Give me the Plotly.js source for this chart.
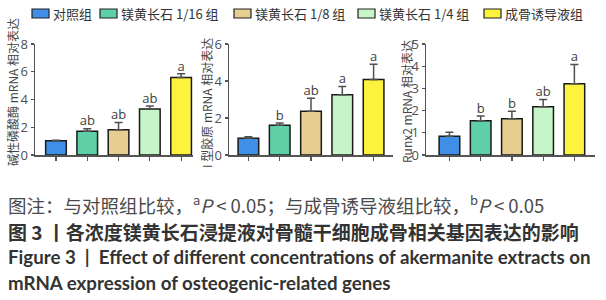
<!DOCTYPE html>
<html>
<head>
<meta charset="utf-8">
<script src="https://cdn.plot.ly/plotly-3.0.1.min.js"></script>
<style>html,body{margin:0;padding:0;background:#fff;}#chart{width:606px;height:300px;}</style>
</head>
<body>
<div id="chart"></div>
<script>
// ---- data ----
const groups = ["对照组", "镁黄长石 1/16 组", "镁黄长石 1/8 组", "镁黄长石 1/4 组", "成骨诱导液组"];
const colors = ["#3f8fe6", "#5fcfa8", "#e6cd90", "#c6f5c9", "#fdf33e"];

const alpValues = [1.02, 1.72, 1.82, 3.31, 5.59];
const alpErrors = [0.05, 0.18, 0.52, 0.22, 0.26];
const alpMarks  = ["", "ab", "ab", "ab", "a"];

const colValues = [0.90, 1.61, 2.37, 3.26, 4.08];
const colErrors = [0.08, 0.12, 0.70, 0.44, 0.82];
const colMarks  = ["", "b", "ab", "a", "a"];

const runValues = [0.85, 1.54, 1.63, 2.17, 3.21];
const runErrors = [0.17, 0.22, 0.34, 0.33, 0.87];
const runMarks  = ["", "b", "b", "ab", "a"];

const yTitles = ["碱性磷酸酶 mRNA 相对表达", "I 型胶原 mRNA 相对表达", "Runx2 mRNA 相对表达"];
const yTicks = [[0, 2, 4, 6, 8], [0, 2, 4, 6], [0, 1, 2, 3, 4, 5]];
const yRanges = [[0, 8], [0, 6], [0, 5]];

// ---- layout helpers ----
const W = 606, H = 300;
const px = x => x / W;
const py = y => (H - y) / H;
const cats = [0, 1, 2, 3, 4];

const panels = [
  {vals: alpValues, errs: alpErrors, marks: alpMarks, x0: 35, x1: 193, xr: [-0.67, 4.38], title: yTitles[0], tx: 12, ty: 92},
  {vals: colValues, errs: colErrors, marks: colMarks, x0: 229, x1: 393, xr: [-0.62, 4.62], title: yTitles[1], tx: 206, ty: 103},
  {vals: runValues, errs: runErrors, marks: runMarks, x0: 426, x1: 595, xr: [-0.75, 4.66], title: yTitles[2], tx: 407, ty: 102}
];

const traces = [];
const layout = {
  width: W, height: H,
  margin: {l: 0, r: 0, t: 0, b: 0},
  paper_bgcolor: "#fff", plot_bgcolor: "rgba(0,0,0,0)",
  showlegend: false,
  font: {family: "Noto Sans CJK SC, sans-serif", color: "#333"},
  annotations: [], shapes: []
};

panels.forEach((p, i) => {
  const n = i === 0 ? "" : String(i + 1);
  const xa = "x" + n, ya = "y" + n;
  traces.push({
    type: "bar", x: cats, y: p.vals, xaxis: xa, yaxis: ya,
    width: 0.66,
    marker: {color: colors, line: {color: "#1a1a1a", width: 1.5}},
    error_y: {type: "data", array: p.errs, arrayminus: p.errs.map(() => 0), symmetric: false,
              color: "#505050", thickness: 1.5, width: 4},
    hoverinfo: "none"
  });
  traces.push({
    type: "scatter", mode: "text", x: cats, y: p.vals.map((v, k) => v + p.errs[k]),
    xaxis: xa, yaxis: ya, text: p.marks, textposition: "top center",
    textfont: {family: "Open Sans, sans-serif", size: 13, color: "#404040"},
    hoverinfo: "none", cliponaxis: false
  });
  layout["xaxis" + n] = {
    domain: [px(p.x0), px(p.x1)], range: p.xr, anchor: ya,
    showgrid: false, zeroline: false, showline: true, linecolor: "#555", linewidth: 1.5,
    ticks: "outside", ticklen: 4, tickwidth: 1.2, tickcolor: "#555",
    tickvals: cats, showticklabels: false, fixedrange: true
  };
  layout["yaxis" + n] = {
    domain: [py(155), py(44)], range: yRanges[i], anchor: xa,
    showgrid: false, zeroline: false, showline: true, linecolor: "#555", linewidth: 1.5,
    ticks: "outside", ticklen: 3, tickwidth: 1.2, tickcolor: "#555",
    tickvals: yTicks[i], tickfont: {family: "Open Sans, sans-serif", size: 13, color: "#505050"},
    fixedrange: true
  };
  layout.annotations.push({
    xref: "paper", yref: "paper", x: px(p.tx), y: py(p.ty), text: p.title, textangle: -90,
    showarrow: false, xanchor: "center", yanchor: "middle",
    font: {family: "Noto Sans CJK SC", size: 12, color: "#444"}
  });
});

// legend (drawn as shapes + text)
const legX = [32, 100, 234, 358, 484];
groups.forEach((g, k) => {
  layout.shapes.push({type: "rect", xref: "paper", yref: "paper",
    x0: px(legX[k]), x1: px(legX[k] + 17), y0: py(18), y1: py(9),
    fillcolor: colors[k], line: {color: "#222", width: 1.2}});
  layout.annotations.push({xref: "paper", yref: "paper", x: px(legX[k] + 19), y: py(14),
    text: g, showarrow: false, xanchor: "left", yanchor: "middle",
    font: {family: "Noto Sans CJK SC", size: 13, color: "#333"}});
});

// captions
const captions = [
  {t: "图注：与对照组比较，<sup>a</sup><i>P</i> < 0.05；与成骨诱导液组比较，<sup>b</sup><i>P</i> < 0.05", y: 204, f: "Noto Sans CJK SC", s: 18.5, c: "#4a4a4a"},
  {t: "<b>图 3 丨各浓度镁黄长石浸提液对骨髓干细胞成骨相关基因表达的影响</b>", y: 231, f: "Noto Sans CJK SC", s: 19, c: "#333"},
  {t: "<b>Figure 3  |  Effect of different concentrations of akermanite extracts on</b>", y: 257, f: "Lato", s: 18.7, c: "#333"},
  {t: "<b>mRNA expression of osteogenic-related genes</b>", y: 283, f: "Lato", s: 18.7, c: "#333"}
];
captions.forEach(c => layout.annotations.push({
  xref: "paper", yref: "paper", x: px(6), y: py(c.y), text: c.t, showarrow: false,
  xanchor: "left", yanchor: "middle", font: {family: c.f, size: c.s, color: c.c}
}));

Plotly.newPlot("chart", traces, layout, {staticPlot: true, displayModeBar: false});
</script>
</body>
</html>
